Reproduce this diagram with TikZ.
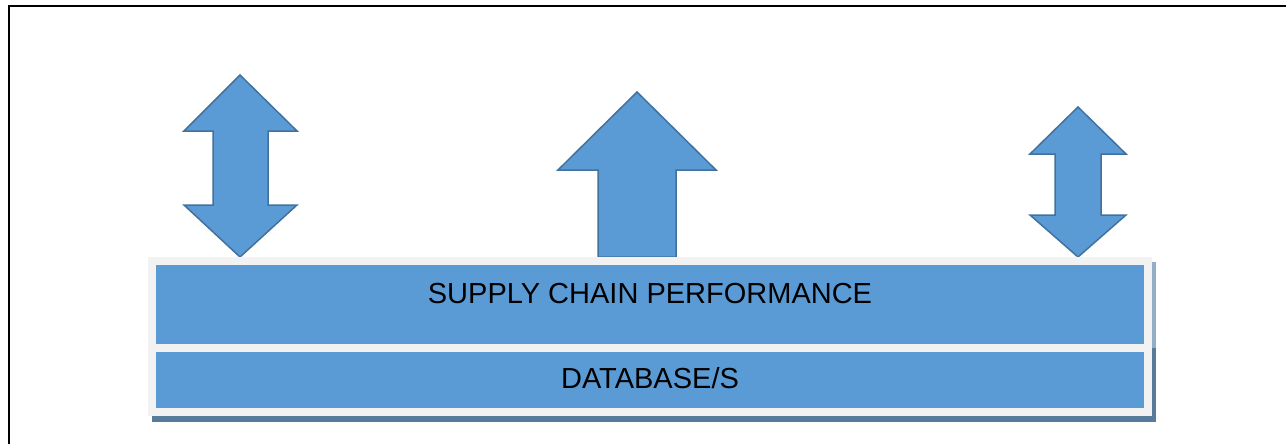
\documentclass[tikz,border=0pt]{standalone}
\usepackage{fontspec}
\setmainfont{Liberation Sans}
\definecolor{afill}{HTML}{5B9BD5}
\definecolor{aline}{HTML}{41719C}
\definecolor{panel}{HTML}{F2F2F2}
\definecolor{shadowdark}{HTML}{587A9B}
\definecolor{shadowlight}{HTML}{93AEC6}
\tikzset{
  arrowshape/.style={fill=afill, draw=aline, line width=1.5pt, line join=miter},
  bar/.style={fill=afill, draw=none},
  bartext/.style={font=\fontsize{29}{35}\selectfont, text=black, inner sep=0pt}
}
\begin{document}
\begin{tikzpicture}[x=1pt,y=-1pt]
\useasboundingbox (0,0) rectangle (1286,444);
% frame
\draw[line width=2pt, line cap=rect] (9,444) -- (9,6) -- (1286,6);
% left double arrow
\draw[arrowshape] (240,75) -- (297,131) -- (268,131) -- (268,205) -- (297,205) -- (240,257)
  -- (184,205) -- (213,205) -- (213,131) -- (184,131) -- cycle;
% middle up arrow
\draw[arrowshape] (637,92) -- (716,170) -- (676,170) -- (676,257) -- (598,257) -- (598,170)
  -- (558,170) -- cycle;
% right double arrow
\draw[arrowshape] (1078,107) -- (1126,154) -- (1101,154) -- (1101,215) -- (1126,215) -- (1078,257)
  -- (1030,215) -- (1055,215) -- (1055,154) -- (1030,154) -- cycle;
% panel shadow
\fill[shadowlight] (152,262) rectangle (1156,348);
\fill[shadowdark] (152,348) rectangle (1156,422);
% panel
\fill[panel] (148,257) rectangle (1152,416);
% bars
\fill[bar] (156,265) rectangle (1144,344);
\fill[bar] (156,352) rectangle (1144,408);
\node[bartext, anchor=base] (scp) at (650,303) {SUPPLY CHAIN PERFORMANCE};
\node[bartext, anchor=base] (db) at (650,388) {DATABASE/S};
\end{tikzpicture}
\end{document}
